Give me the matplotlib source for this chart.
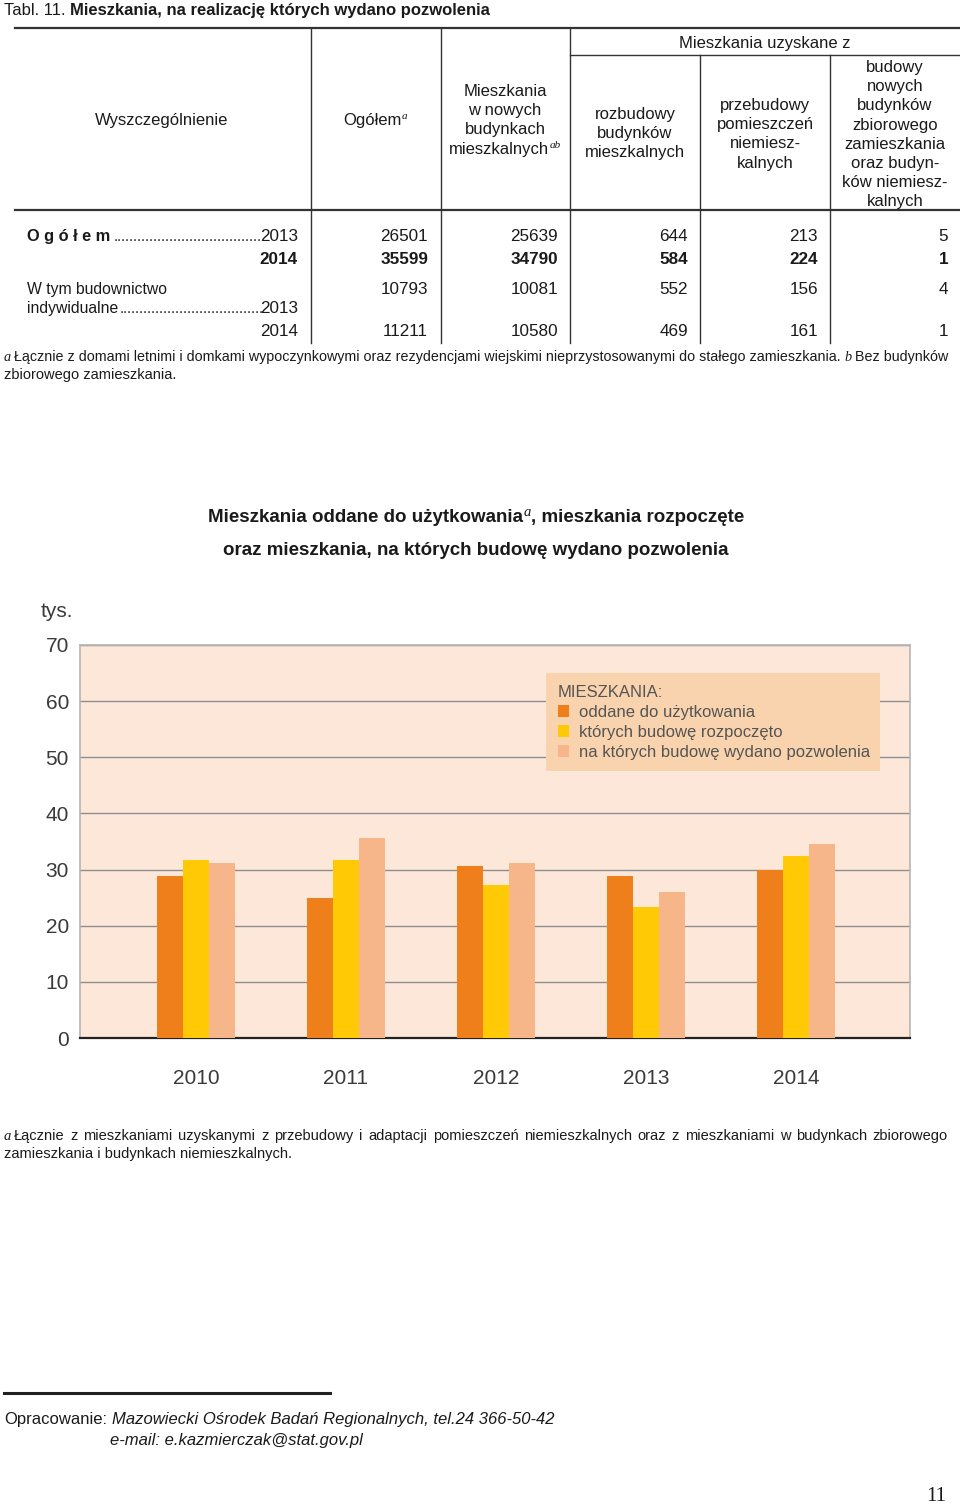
import numpy as np
import matplotlib
matplotlib.use('Agg')
import matplotlib.pyplot as plt
from matplotlib import font_manager

# ---- dane: tabela ----
row_labels = ['Ogółem', 'W tym budownictwo indywidualne']
row_years = ['2013', '2014']
ogolem_2013 = [26501, 25639, 644, 213, 5]
ogolem_2014 = [35599, 34790, 584, 224, 1]
indyw_2013 = [10793, 10081, 552, 156, 4]
indyw_2014 = [11211, 10580, 469, 161, 1]

# ---- dane: wykres (tys.) ----
years = ['2010', '2011', '2012', '2013', '2014']
oddane = [28.9, 25.0, 30.6, 28.9, 30.0]
rozpoczete = [31.7, 31.7, 27.2, 23.4, 32.4]
pozwolenia = [31.2, 35.7, 31.2, 26.0, 34.5]
series_labels = ['oddane do użytkowania', 'których budowę rozpoczęto',
                 'na których budowę wydano pozwolenia']
colors = ['#EE7F1B', '#FFCA05', '#F6B68A']

names = {f.name for f in font_manager.fontManager.ttflist}
SANS = 'Liberation Sans'
NARROW = 'Liberation Sans Narrow' if 'Liberation Sans Narrow' in names else SANS
SERIF = 'Liberation Serif'
TXT = '#1a1a1a'

fig = plt.figure(figsize=(9.6, 15.04), dpi=100)
fig.patch.set_facecolor('white')
page = fig.add_axes([0, 0, 1, 1])
page.set_xlim(0, 960)
page.set_ylim(1504, 0)
page.axis('off')
renderer = fig.canvas.get_renderer()


def line(x, y, parts, ha='left', fit=None):
    """parts: list of (text, dict) -- dict may hold dy (px) and gap (px).
    fit: optional width in px; font sizes are scaled so the line fills it."""
    objs = []
    for s, kw in parts:
        kw = dict(kw)
        dy = kw.pop('dy', 0)
        gap = kw.pop('gap', 0)
        kw.setdefault('family', SANS)
        kw.setdefault('color', TXT)
        t = page.text(0, y + dy, s, va='baseline', ha='left', **kw)
        objs.append([t, gap])
    def widths():
        return [t.get_window_extent(renderer).width + g for t, g in objs]
    if fit is not None:
        for _ in range(3):
            k = fit / sum(widths())
            for t, _g in objs:
                t.set_fontsize(t.get_fontsize() * k)
    ws = widths()
    total = sum(ws)
    if ha == 'center':
        x -= total / 2
    elif ha == 'right':
        x -= total
    for (t, _g), w in zip(objs, ws):
        t.set_x(x)
        x += w
    return total


def justify(x0, x1, y, text, **kw):
    words = text.split()
    objs = [page.text(0, y, w, va='baseline', **kw) for w in words]
    widths = [o.get_window_extent(renderer).width for o in objs]
    gap = (x1 - x0 - sum(widths)) / (len(words) - 1)
    x = x0
    for o, w in zip(objs, widths):
        o.set_x(x)
        x += w + gap


# ---------------- tabela ----------------
line(4, 15, [('Tabl. 11.', dict(size=12, gap=5)),
             ('Mieszkania, na realizację których wydano pozwolenia',
              dict(size=12, weight='bold'))])

lc = '#333333'
page.plot([15, 960], [28, 28], color=lc, lw=1.6)
page.plot([15, 960], [210, 210], color=lc, lw=1.6)
page.plot([570, 960], [55, 55], color=lc, lw=1.0)
for xv in [311, 441, 570]:
    page.plot([xv, xv], [28, 343], color=lc, lw=1.0)
for xv in [700, 830]:
    page.plot([xv, xv], [55, 343], color=lc, lw=1.0)

hs = 12
line(162, 125, [('Wyszczególnienie', dict(size=hs))], ha='center')
line(375, 125, [('Ogółem', dict(size=hs)),
                ('a', dict(size=8, family=SERIF, style='italic', dy=-6))], ha='center')
line(765, 48, [('Mieszkania uzyskane z', dict(size=hs))], ha='center')

headers = [
    (505, 96, ['Mieszkania', 'w nowych', 'budynkach', 'mieszkalnych']),
    (635, 119, ['rozbudowy', 'budynków', 'mieszkalnych']),
    (765, 110, ['przebudowy', 'pomieszczeń', 'niemiesz-', 'kalnych']),
    (895, 72, ['budowy', 'nowych', 'budynków', 'zbiorowego', 'zamieszkania',
               'oraz budyn-', 'ków niemiesz-', 'kalnych']),
]
for cx, y0, lines in headers:
    for i, s in enumerate(lines):
        parts = [(s, dict(size=hs))]
        if cx == 505 and i == 3:
            parts.append(('ab', dict(size=8, family=SERIF, style='italic', dy=-6)))
        line(cx, y0 + i * 19.2, parts, ha='center')

col_right = [428, 558, 688, 818, 948]
bs = 12.3
ls = 11.3


def dots_to(x_start, x_end, y):
    s = ''
    t = page.text(x_start, y, s, va='baseline', family=NARROW, size=10.5, color=TXT)
    while True:
        t.set_text(s + '.')
        if t.get_window_extent(renderer).width > x_end - x_start:
            t.set_text(s)
            break
        s += '.'


# Ogółem 2013
w = line(27, 241, [(' '.join(row_labels[0]), dict(size=11.8, weight='bold', family=SANS))])
dots_to(27 + w + 3, 264, 241)
line(298, 241, [(row_years[0], dict(size=bs, family=NARROW))], ha='right')
for xr, v in zip(col_right, ogolem_2013):
    line(xr, 241, [(str(v), dict(size=bs, family=NARROW))], ha='right')
# Ogółem 2014
line(298, 264, [(row_years[1], dict(size=bs, family=NARROW, weight='bold'))], ha='right')
for xr, v in zip(col_right, ogolem_2014):
    line(xr, 264, [(str(v), dict(size=bs, family=NARROW, weight='bold'))], ha='right')
# budownictwo indywidualne
line(27, 294, [('W tym budownictwo', dict(size=ls, family=NARROW))])
w = line(27, 313, [('indywidualne', dict(size=ls, family=NARROW))])
dots_to(27 + w + 1, 264, 313)
line(298, 313, [(row_years[0], dict(size=bs, family=NARROW))], ha='right')
for xr, v in zip(col_right, indyw_2013):
    line(xr, 294, [(str(v), dict(size=bs, family=NARROW))], ha='right')
line(298, 336, [(row_years[1], dict(size=bs, family=NARROW))], ha='right')
for xr, v in zip(col_right, indyw_2014):
    line(xr, 336, [(str(v), dict(size=bs, family=NARROW))], ha='right')

fs = 10.5
line(4, 361, [('a', dict(size=fs, family=SERIF, style='italic', gap=3)),
              ('Łącznie z domami letnimi i domkami wypoczynkowymi oraz rezydencjami '
               'wiejskimi nieprzystosowanymi do stałego zamieszkania.',
               dict(size=fs, family=NARROW, gap=4)),
              ('b', dict(size=fs, family=SERIF, style='italic', gap=3)),
              ('Bez budynków', dict(size=fs, family=NARROW))], fit=944)
line(4, 379, [('zbiorowego zamieszkania.', dict(size=fs, family=NARROW))])

# ---------------- wykres ----------------
line(476, 522, [('Mieszkania oddane do użytkowania', dict(size=13.5, weight='bold')),
                ('a', dict(size=10.5, family=SERIF, style='italic', dy=-6, gap=0)),
                (', mieszkania rozpoczęte', dict(size=13.5, weight='bold'))], ha='center')
line(476, 555, [('oraz mieszkania, na których budowę wydano pozwolenia',
                 dict(size=13.5, weight='bold'))], ha='center')

ax = fig.add_axes([80 / 960, 1 - 1038 / 1504, 830 / 960, 393 / 1504])
ax.set_facecolor('#FCE7D8')
x = np.arange(len(years))
bw = 0.172
ax.bar(x - bw, oddane, bw, color=colors[0], label=series_labels[0], zorder=3)
ax.bar(x, rozpoczete, bw, color=colors[1], label=series_labels[1], zorder=3)
ax.bar(x + bw, pozwolenia, bw, color=colors[2], label=series_labels[2], zorder=3)
ax.set_xlim(-0.773, 4.76)
ax.set_ylim(0, 70)
ax.set_yticks(range(0, 71, 10))
ax.set_xticks(x)
ax.set_xticklabels(years)
ax.yaxis.grid(True, color='#8f8f8f', lw=1.0, zorder=1)
ax.set_axisbelow(True)
for s in ['top', 'right', 'left']:
    ax.spines[s].set_color('#b5b5b5')
    ax.spines[s].set_linewidth(1.2)
ax.spines['bottom'].set_color('#222222')
ax.spines['bottom'].set_linewidth(1.6)
ax.tick_params(axis='both', length=0, labelsize=15, labelcolor='#3a3a3a')
ax.tick_params(axis='y', pad=8)
ax.tick_params(axis='x', pad=22)
for lab in ax.get_xticklabels() + ax.get_yticklabels():
    lab.set_family(SANS)

leg = ax.legend(title='MIESZKANIA:', loc='upper left',
                bbox_to_anchor=(0.5614, 0.6288, 0.4024, 0.3), mode='expand',
                borderaxespad=0, fontsize=12, title_fontsize=12,
                facecolor='#F9D3AD', edgecolor='none', framealpha=1,
                fancybox=False, handlelength=0.7, handleheight=0.7,
                handletextpad=0.6, labelspacing=0.3, borderpad=0.7,
                alignment='left', labelcolor='#555555')
leg.get_title().set_color('#555555')
leg.get_title().set_family(SANS)
for t in leg.get_texts():
    t.set_family(SANS)

line(57, 617, [('tys.', dict(size=15, color='#3a3a3a'))], ha='center')

# przypis do wykresu
line(4, 1140, [('a', dict(size=10.5, family=SERIF, style='italic'))])
justify(14, 948, 1140,
        'Łącznie z mieszkaniami uzyskanymi z przebudowy i adaptacji pomieszczeń '
        'niemieszkalnych oraz z mieszkaniami w budynkach zbiorowego',
        family=SANS, size=10.5, color=TXT)
line(4, 1158, [('zamieszkania i budynkach niemieszkalnych.', dict(size=10.5))])

# stopka
page.plot([4, 330], [1393, 1393], color='#222222', lw=2.2)
line(4, 1424, [('Opracowanie:', dict(size=12, gap=5)),
               ('Mazowiecki Ośrodek Badań Regionalnych, tel.24 366-50-42',
                dict(size=12, style='italic'))])
line(110, 1445, [('e-mail: e.kazmierczak@stat.gov.pl', dict(size=12, style='italic'))])
line(946, 1501, [('11', dict(size=15, family=SERIF))], ha='right')

fig.savefig('out.png', dpi=100)
